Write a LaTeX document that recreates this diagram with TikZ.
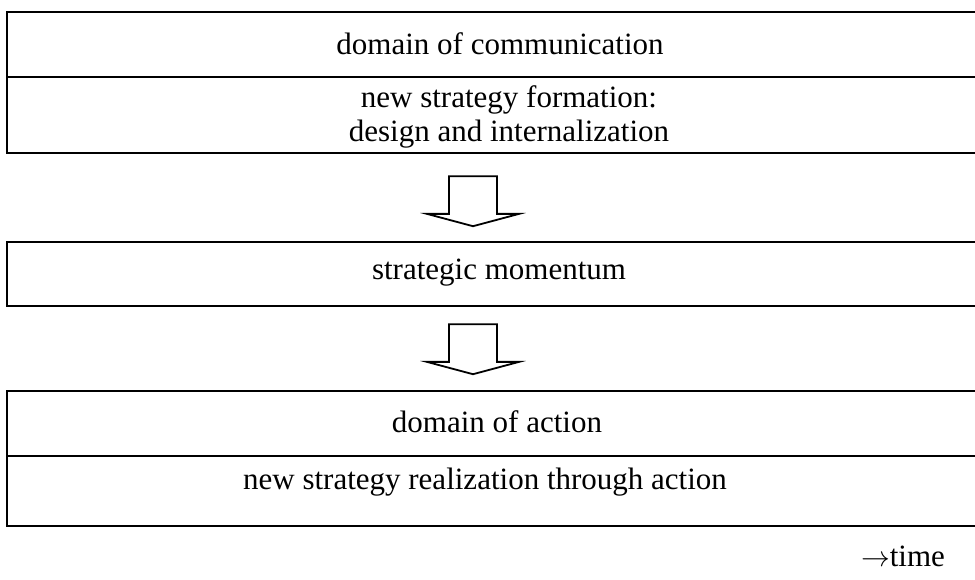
\documentclass[tikz,border=0pt]{standalone}
\usepackage{fontspec}
\setmainfont{Liberation Serif}
\usetikzlibrary{shapes.arrows}

\begin{document}
\begin{tikzpicture}[x=0.5pt,y=-0.5pt,
	boxframe/.style={draw,line width=1pt,minimum width=492pt,inner sep=0pt,anchor=north west},
	boxtext/.style={font=\fontsize{15.5}{17}\selectfont,align=center,inner sep=0pt},
	blockarrow/.style={single arrow,draw,line width=0.9pt,rotate=-90,minimum height=25pt,minimum width=46pt,single arrow head extend=11pt,single arrow tip angle=150,inner xsep=0pt,inner ysep=11.5pt}]
\useasboundingbox (0,0) rectangle (975,579);
\clip (0,0) rectangle (975,579);
% frames
\node [boxframe,minimum height=32.5pt] (comm) at (6,11) {};
\node [boxframe,minimum height=38pt] (form) at (6,76) {};
\node [boxframe,minimum height=32pt] (mom) at (6,241) {};
\node [boxframe,minimum height=32.5pt] (act) at (6,390) {};
\node [boxframe,minimum height=35pt] (real) at (6,455) {};
% texts
\node [boxtext] (commtxt) at (500,44) {domain of communication};
\node [boxtext] (formtxt) at (509,117) {new strategy formation:\\design and internalization};
\node [boxtext] (momtxt) at (499,273) {strategic momentum};
\node [boxtext] (acttxt) at (497,422) {domain of action};
\node [boxtext] (realtxt) at (485,482) {new strategy realization through action};
% arrows
\node [blockarrow] (arr1) at (473,198) {};
\node [blockarrow] (arr2) at (473,346) {};
\node [boxtext] (time) at (903,556) {$\rightarrow$time};
\end{tikzpicture}
\end{document}
